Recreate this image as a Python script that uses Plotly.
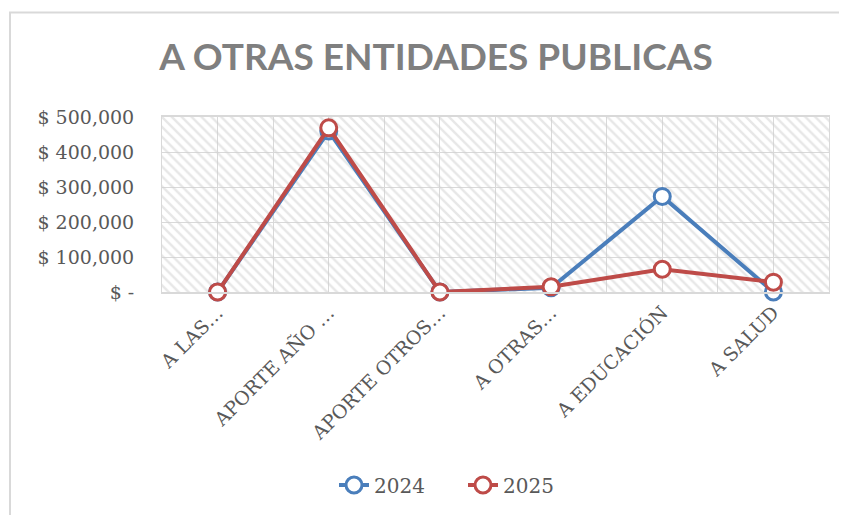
import plotly.graph_objects as go

categories = ["A LAS…", "APORTE AÑO …", "APORTE OTROS…", "A OTRAS…", "A EDUCACIÓN", "A SALUD"]
values_2024 = [0, 460000, 0, 12000, 273000, 0]
values_2025 = [0, 469000, 0, 15000, 65000, 28000]
y_tickvals = [0, 100000, 200000, 300000, 400000, 500000]
y_ticktext = ["$ -", "$ 100,000", "$ 200,000", "$ 300,000", "$ 400,000", "$ 500,000"]

x_idx = list(range(len(categories)))
x_lo, x_hi = -0.5, len(categories) - 0.5
y_lo, y_hi = 0, 500000

BLUE = "#4a7ebb"
RED = "#be4b48"
GRID = "#d9d9d9"
TXT = "#595959"
SERIF = "DejaVu Serif"

fig = go.Figure()

# hatched plot-area background
fig.add_trace(go.Scatter(
    x=[x_lo, x_hi, x_hi, x_lo, x_lo], y=[y_lo, y_lo, y_hi, y_hi, y_lo],
    mode="lines", line=dict(width=0), fill="toself", fillcolor="rgba(0,0,0,0)",
    fillpattern=dict(shape="\\", fgcolor="#cfcfcf", bgcolor="rgba(0,0,0,0)", size=7, solidity=0.35),
    hoverinfo="skip", showlegend=False))

for name, vals, col in [("2024", values_2024, BLUE), ("2025", values_2025, RED)]:
    fig.add_trace(go.Scatter(
        x=x_idx, y=vals, name=name, mode="lines+markers",
        line=dict(color=col, width=4),
        marker=dict(symbol="circle", size=16, color="white", line=dict(color=col, width=3)),
        cliponaxis=False))

fig.update_layout(
    width=839, height=507,
    margin=dict(l=154, r=18, t=109, b=222),
    paper_bgcolor="white", plot_bgcolor="white",
    title=dict(text="<b>A OTRAS ENTIDADES PUBLICAS</b>", x=(436 - 8) / 839, xanchor="center",
               y=(507 - 49) / 507, yanchor="middle",
               font=dict(family="Lato", size=37, color="#7f7f7f")),
    showlegend=True,
    legend=dict(orientation="h", x=(463 - 162) / 667, xanchor="center", y=-(485 - 293) / 176,
                yanchor="middle", entrywidth=84, entrywidthmode="pixels",
                font=dict(family=SERIF, size=20, color=TXT)),
    xaxis=dict(range=[x_lo, x_hi], tickmode="array", tickvals=x_idx, ticktext=categories,
               tickangle=-45, tickfont=dict(family=SERIF, size=19, color=TXT),
               showgrid=True, gridcolor=GRID, gridwidth=1,
               minor=dict(tick0=-0.5, dtick=1, showgrid=True, gridcolor=GRID, gridwidth=1),
               showline=True, linecolor=GRID, linewidth=2, mirror=True,
               zeroline=False, ticks="", fixedrange=True),
    yaxis=dict(range=[y_lo, y_hi], tickmode="array", tickvals=y_tickvals, ticktext=y_ticktext,
               tickfont=dict(family=SERIF, size=19, color=TXT),
               showgrid=True, gridcolor=GRID, gridwidth=1,
               showline=True, linecolor=GRID, linewidth=1, mirror=True,
               zeroline=False, ticks="", ticklabelstandoff=23, fixedrange=True),
)

# chart-area border (extends beyond the visible window on right/bottom)
fig.add_shape(type="rect", xref="paper", yref="paper",
              x0=(10 - 162) / 667, x1=1.2, y0=-1.6, y1=(293 - 12) / 176,
              line=dict(color="#d9d9d9", width=2), fillcolor="rgba(0,0,0,0)", layer="below")

fig.write_html("out.html")
